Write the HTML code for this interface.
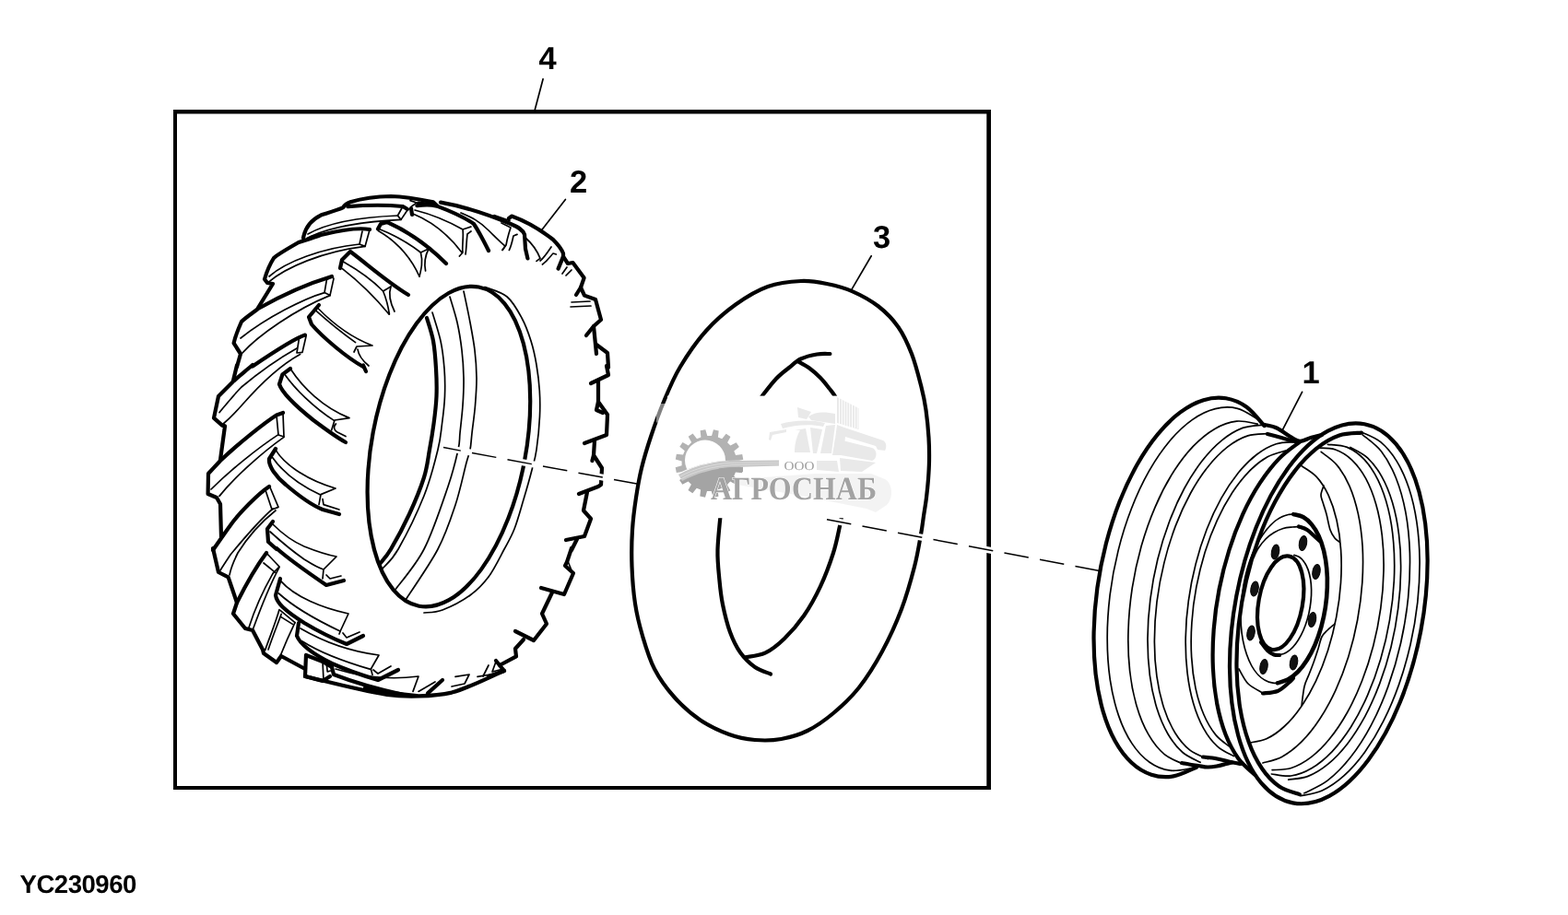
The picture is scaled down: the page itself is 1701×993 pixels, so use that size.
<!DOCTYPE html>
<html lang="ru">
<head>
<meta charset="utf-8">
<title>YC230960</title>
<style>
html,body{margin:0;padding:0;background:#fff;}
body{width:1701px;height:993px;overflow:hidden;position:relative;}
svg{position:absolute;left:0;top:0;display:block;will-change:transform;}
text{text-rendering:geometricPrecision;-webkit-font-smoothing:antialiased;}
.k{fill:none;stroke:#000;stroke-linecap:round;stroke-linejoin:round;}
.t3{stroke-width:4.2;}
.t2{stroke-width:2.4;}
.t4{stroke-width:4.6;}
.t1{stroke-width:1.7;}
.t0{stroke-width:1.1;}
.k path,.k line,.k ellipse,.k polyline{vector-effect:non-scaling-stroke;}
.lbl{font-family:"Liberation Sans",sans-serif;font-weight:bold;fill:#000;}
</style>
</head>
<body>
<svg width="1701" height="993" viewBox="0 0 1701 993">
<rect x="0" y="0" width="1701" height="993" fill="#fff"/>
<!--FRAME-->
<path d="M188,119 H1075 V857 H188 Z M192,123.4 V853 H1070.3 V123.4 Z" fill="#000" fill-rule="evenodd"/>
<!--LABELS-->
<g class="lbl" font-size="34.5" text-anchor="middle">
<text x="594" y="75.3">4</text>
<text x="627.5" y="209">2</text>
<text x="956.5" y="269">3</text>
<text x="1422" y="416.3">1</text>
</g>
<text class="lbl" x="21.5" y="969.3" font-size="27.6" letter-spacing="-0.5">YC230960</text>
<!--LEADERS-->
<g class="k t1">
<path d="M589.1 85.7L580.3 119"/>
<path d="M945.2 277.8L924.2 313.6"/>
<path d="M1412.6 425.3L1391.3 466.6"/>
</g>
<!--TIRE-->
<g id="tA" transform="translate(220,200) scale(0.2)">
<g class="k t3">
<path d="M545,292 C555,235 585,195 640,168 C670,158 730,140 760,127 C770,110 780,102 800,96 C860,78 940,66 1020,65 C1100,66 1190,84 1250,97 L1270,115"/>
<path d="M787,121 C880,113 1000,112 1085,120 L1110,135"/>
<path d="M905,245 C850,235 760,245 640,275 C600,290 550,305 520,315 C450,355 400,385 385,400 C360,440 345,480 335,515 L350,535 L380,540 L300,670"/>
<path d="M700,500 C600,530 450,590 300,675 C260,705 230,725 210,745 C190,790 175,830 168,862 L205,920 L185,990"/>
<path d="M555,818 C500,835 400,900 270,988"/>
<path d="M950,242 L965,215 L1000,205 C1100,250 1200,310 1320,430"/>
<path d="M745,455 L755,410 L800,365 C900,440 1000,530 1115,600"/>
<path d="M630,655 L575,720 L590,760 C650,830 780,940 870,990"/>
<path d="M1130,130 L1135,165"/>
<path d="M1162,116 C1200,110 1240,110 1270,118 C1350,148 1420,180 1470,215 C1500,260 1530,320 1550,360"/>
<path d="M1170,103 L1262,112"/>
</g>
<g class="k t1">
<path d="M1125,88 L1160,100 L1130,122"/>
<path d="M1085,120 L1057,170 L1075,192 L1110,140"/>
<path d="M570,270 C650,225 800,180 1057,170"/>
<path d="M565,292 C650,250 800,205 1075,192"/>
<path d="M865,255 L850,325 L880,337 L905,248"/>
<path d="M360,500 C450,420 650,345 850,325"/>
<path d="M355,532 C450,450 650,365 880,337"/>
<path d="M700,500 L672,518 L660,588 L690,603 L710,512 Z"/>
<path d="M205,835 C350,720 550,620 660,588"/>
<path d="M215,915 C300,820 500,680 690,603"/>
<path d="M555,818 L522,838 L510,915 L540,912 L560,825"/>
<path d="M962,245 C1050,280 1130,330 1182,370 L1225,350"/>
<path d="M952,252 C1050,310 1130,400 1175,500"/>
<path d="M1182,370 C1195,420 1185,460 1175,500"/>
<path d="M1225,350 C1205,390 1200,430 1208,470"/>
<path d="M762,420 C850,470 930,530 978,580 L1020,555"/>
<path d="M757,458 C850,530 940,620 1010,705"/>
<path d="M978,580 C995,620 1005,660 1012,705"/>
<path d="M1020,555 C1005,600 1020,650 1040,690"/>
<path d="M622,670 C700,750 800,830 920,875 L835,880 L820,910"/>
<path d="M615,687 C680,745 760,810 828,858"/>
<path d="M840,895 C845,930 870,960 900,985"/>
<path d="M1150,140 C1250,165 1330,200 1410,245 L1455,230"/>
<path d="M1140,160 C1250,205 1330,270 1405,370"/>
<path d="M1410,245 C1416,280 1405,340 1410,370 L1392,390"/>
<path d="M1455,255 L1435,270 C1430,310 1430,350 1425,380"/>
</g>
</g>
<g id="tB" transform="translate(220,398) scale(0.2)">
<g class="k t3">
<path d="M185,-8 L165,75"/>
<path d="M270,-10 C230,25 190,55 160,85 L85,160 L60,278 L105,318 L120,322 L95,505"/>
<path d="M435,250 L400,262 C340,300 200,410 95,510 L30,580 L28,690 L75,710 L95,745 L100,925"/>
<path d="M360,650 C300,690 200,790 150,860 C110,915 80,960 55,995"/>
<path d="M870,-8 L885,25"/>
<path d="M475,10 L432,42 L415,95 C430,140 500,210 600,290 C660,335 720,380 775,410"/>
<path d="M395,445 L360,500 C355,540 400,600 450,640 C520,700 600,755 650,775 L740,800"/>
<path d="M380,840 L350,880 L355,950 L400,990"/>
</g>
<g class="k t1">
<path d="M510,-100 C430,-55 330,10 210,110 C170,150 130,200 90,248"/>
<path d="M528,-68 C450,-25 350,50 215,205 C180,245 140,285 105,315"/>
<path d="M400,265 L410,370 L440,380 L435,255"/>
<path d="M410,368 C300,440 150,560 45,665"/>
<path d="M440,382 C330,460 180,590 90,702"/>
<path d="M340,670 L375,775 L410,762 L365,655"/>
<path d="M380,770 C300,840 220,935 150,1020 C130,1050 110,1080 95,1105"/>
<path d="M395,780 C320,840 240,930 190,1010 C170,1050 150,1100 145,1130"/>
<path d="M478,15 C540,110 650,220 795,278 L715,290 L698,345"/>
<path d="M445,42 C500,120 600,220 712,292"/>
<path d="M722,310 C705,325 712,345 730,355 L775,378"/>
<path d="M395,452 C450,540 580,620 720,660 L640,693 L630,748"/>
<path d="M378,492 C440,580 540,650 638,695"/>
<path d="M650,718 L655,748 L740,775"/>
<path d="M380,855 C420,895 480,945 550,975 C600,995 670,1020 725,1030 L655,1100 L650,1150"/>
<path d="M365,895 C420,945 500,1010 550,1045 C590,1070 620,1090 655,1100"/>
</g>
</g>
<g id="tC" transform="translate(220,596) scale(0.2)">
<g class="k t3">
<path d="M55,-5 L85,125 L138,152 L185,290"/>
<path d="M345,20 C300,80 230,200 185,290 L165,350 L230,430 L270,440 L325,545 L330,565 L400,615 L425,580 L555,650"/>
<path d="M700,640 L650,610 L560,575 L555,690 L650,715 L690,690"/>
<path d="M555,690 C700,725 850,765 1000,790 C1100,803 1250,800 1350,778 C1450,750 1550,695 1635,660"/>
<path d="M700,640 L710,680 C800,715 950,760 1100,793"/>
<path d="M880,752 C950,770 1050,786 1160,795"/>
<path d="M400,-5 C450,40 560,120 670,195 L765,170"/>
<path d="M420,160 L395,250 C400,290 440,330 550,400 C650,460 730,495 780,515 L870,470"/>
<path d="M520,400 L510,470 C530,520 600,570 700,620 C800,665 900,695 950,710 L1060,655"/>
<path d="M1220,782 L1300,710"/>
</g>
<g class="k t1">
<path d="M345,20 L415,95 L380,132"/>
<path d="M380,132 C330,220 280,330 250,425"/>
<path d="M415,98 C360,200 310,330 270,440"/>
<path d="M420,332 L500,398"/>
<path d="M415,328 C395,400 365,470 338,548"/>
<path d="M426,352 C405,410 380,470 355,545"/>
<path d="M425,368 L487,407"/>
<path d="M330,75 L392,126"/>
<path d="M500,398 C470,460 440,530 420,580"/>
<path d="M650,610 L655,712"/>
<path d="M672,628 L676,665 L692,660"/>
<path d="M670,140 L690,160 L750,145"/>
<path d="M422,172 C500,260 650,320 790,350 L748,440 L740,460"/>
<path d="M412,240 C500,320 650,400 745,445"/>
<path d="M760,455 L780,480 L850,450"/>
<path d="M530,430 C650,500 800,555 955,575 L912,650 L920,682"/>
<path d="M540,500 C650,570 800,620 910,652"/>
<path d="M925,655 L950,675 L1020,635"/>
<path d="M720,650 C850,690 1000,712 1170,690 L1140,772"/>
<path d="M1170,772 L1260,720"/>
<path d="M1350,745 L1420,730 L1445,680 L1370,692"/>
<path d="M1490,692 L1560,680"/>
</g>
</g>
<g id="tD" transform="translate(500,200) scale(0.2)">
<g class="k t3">
<path d="M-110,98 C0,117 150,165 270,215 C310,232 335,245 345,272 L350,350 L362,402"/>
<path d="M260,185 L275,173 C350,200 435,250 500,300 C525,325 545,350 555,375 L555,392 L528,458"/>
<path d="M555,392 L580,430 L607,425 L668,508 L650,560 L625,600"/>
<path d="M650,560 L670,603 L730,625 L760,735 L720,770 L680,820"/>
<path d="M720,770 L735,920"/>
<path d="M735,870 L795,915 L800,995"/>
</g>
<g class="k t1">
<path d="M0,155 C60,180 100,200 150,250 C190,290 220,320 240,335 L225,357"/>
<path d="M180,168 L265,198"/>
<path d="M220,210 L270,235 C260,265 250,300 245,330 L225,357"/>
<path d="M305,272 L285,280 C280,300 275,330 262,357"/>
<path d="M350,290 C390,325 415,365 430,402 L410,417"/>
<path d="M490,340 C470,370 450,400 430,415"/>
<path d="M517,380 L500,375 C485,390 470,415 442,435"/>
<path d="M550,485 L575,450"/>
<path d="M570,495 L600,465"/>
<path d="M600,640 L700,635"/>
<path d="M595,665 L705,660"/>
<path d="M567,82 L437,250"/>
</g>
</g>
<g id="tE" transform="translate(500,398) scale(0.2)">
<g class="k t3">
<path d="M790,-5 L800,45 L705,90"/>
<path d="M745,75 L745,190 L795,260 L790,370 L670,415"/>
<path d="M745,190 L735,235 L770,250"/>
<path d="M725,400 L720,480 L765,550 L760,640 L745,650 L640,690"/>
<path d="M720,480 L712,510"/>
<path d="M685,680 L665,780 L705,825 L670,920 L570,940"/>
<path d="M630,935 L600,995"/>
</g>
</g>
<g id="tF" transform="translate(500,596) scale(0.2)">
<g class="k t3">
<path d="M600,-5 L575,70 L565,90 L610,130 L560,245 L435,210"/>
<path d="M495,235 L440,350 L465,405 L395,495 L295,445"/>
<path d="M340,490 L295,540 L300,582 L210,630 L190,605"/>
<path d="M210,630 L235,660 L150,690"/>
</g>
<g class="k t1">
<path d="M578,60 L598,110"/>
<path d="M190,610 L170,665 L230,650"/>
<path d="M150,630 L120,690"/>
</g>
</g>
<!--HOLE-->
<g id="hole">
<ellipse class="k t3" cx="486.9" cy="484.6" rx="176.1" ry="83.6" transform="rotate(-79.40 486.9 484.6)"/>
<path class="k t1" d="M526.0,311.5 C530.0,313.2 543.3,316.4 550.0,322.0 C556.7,327.6 561.7,337.0 566.0,345.0 C570.3,353.0 573.3,361.5 576.0,370.0 C578.7,378.5 580.5,387.0 582.0,396.0 C583.5,405.0 584.7,414.7 585.3,424.0 C585.9,433.3 586.0,441.3 585.5,452.0 C585.0,462.7 583.4,478.3 582.0,488.0 C580.6,497.7 579.3,501.0 577.0,510.0 C574.7,519.0 571.2,531.3 568.0,542.0 C564.8,552.7 561.5,565.0 558.0,574.0 C554.5,583.0 551.7,587.3 547.0,596.0 C542.3,604.7 536.2,617.7 530.0,626.0 C523.8,634.3 518.3,640.0 510.0,646.0 C501.7,652.0 488.3,658.8 480.0,662.0 C471.7,665.2 463.3,664.5 460.0,665.0"/>
<path class="k t3" d="M463.0,345.0 C464.2,349.2 468.3,360.8 470.0,370.0 C471.7,379.2 472.4,390.0 473.0,400.0 C473.6,410.0 473.9,420.0 473.5,430.0 C473.1,440.0 471.8,450.3 470.5,460.0 C469.2,469.7 467.8,478.3 466.0,488.0 C464.2,497.7 463.7,506.3 460.0,518.0 C456.3,529.7 450.0,545.0 444.0,558.0 C438.0,571.0 429.3,587.0 424.0,596.0 C418.7,605.0 414.0,609.3 412.0,612.0"/>
<path class="k t1" d="M469.0,339.0 C470.5,344.2 475.8,359.8 478.0,370.0 C480.2,380.2 481.2,390.0 482.0,400.0 C482.8,410.0 482.9,420.0 482.5,430.0 C482.1,440.0 480.8,450.3 479.5,460.0 C478.2,469.7 478.2,475.0 475.0,488.0 C471.8,501.0 467.2,520.0 460.0,538.0 C452.8,556.0 439.5,582.8 432.0,596.0 C424.5,609.2 417.8,613.5 415.0,617.0"/>
<path class="k t1" d="M488.0,322.0 C489.3,326.7 493.8,340.3 496.0,350.0 C498.2,359.7 499.8,370.0 501.0,380.0 C502.2,390.0 502.8,400.0 503.0,410.0 C503.2,420.0 502.7,430.0 502.0,440.0 C501.3,450.0 499.8,462.0 499.0,470.0 C498.2,478.0 499.2,478.3 497.0,488.0 C494.8,497.7 492.2,510.0 486.0,528.0 C479.8,546.0 469.7,577.2 460.0,596.0 C450.3,614.8 433.3,633.5 428.0,641.0"/>
<path class="k t1" d="M503.0,316.0 C504.2,321.7 508.0,339.3 510.0,350.0 C512.0,360.7 513.8,370.0 515.0,380.0 C516.2,390.0 516.9,400.0 517.0,410.0 C517.1,420.0 516.3,430.0 515.5,440.0 C514.7,450.0 512.9,462.0 512.0,470.0 C511.1,478.0 511.0,482.7 510.0,488.0 C509.0,493.3 508.7,492.0 506.0,502.0 C503.3,512.0 499.2,532.3 494.0,548.0 C488.8,563.7 484.0,578.8 475.0,596.0 C466.0,613.2 445.8,641.8 440.0,651.0"/>
</g>
<!--/HOLE-->
<!--TUBE-->
<g id="tube">
<path class="k t3" d="M869.0,305.0 C879.7,304.5 887.7,306.1 897.0,308.0 C906.3,309.9 915.7,312.2 925.0,316.3 C934.3,320.4 944.8,326.1 953.0,332.5 C961.2,338.9 968.5,346.4 974.5,355.0 C980.5,363.6 984.8,373.2 989.0,384.0 C993.2,394.8 996.9,409.8 999.5,420.0 C1002.1,430.2 1003.2,435.8 1004.5,445.0 C1005.8,454.2 1006.9,465.8 1007.5,475.0 C1008.1,484.2 1008.1,492.5 1008.0,500.0 C1007.9,507.5 1007.5,513.3 1007.0,520.0 C1006.5,526.7 1005.8,533.3 1005.0,540.0 C1004.2,546.7 1003.0,553.3 1002.0,560.0 C1001.0,566.7 1000.7,570.8 999.0,580.0 C997.3,589.2 995.5,601.5 992.0,615.0 C988.5,628.5 983.8,645.7 978.0,661.0 C972.2,676.3 964.7,692.8 957.0,707.0 C949.3,721.2 940.8,734.8 932.0,746.0 C923.2,757.2 913.3,766.2 904.0,774.0 C894.7,781.8 885.4,788.3 876.0,793.0 C866.6,797.7 857.0,800.3 847.5,802.0 C838.0,803.7 828.4,803.8 819.0,803.0 C809.6,802.2 801.0,800.7 791.0,797.0 C781.0,793.3 769.0,787.8 759.0,781.0 C749.0,774.2 739.2,765.2 731.0,756.0 C722.8,746.8 715.7,737.0 710.0,726.0 C704.3,715.0 700.5,701.8 697.0,690.0 C693.5,678.2 690.9,667.5 689.0,655.0 C687.1,642.5 686.0,628.3 685.5,615.0 C685.0,601.7 685.2,587.5 686.0,575.0 C686.8,562.5 688.3,551.2 690.0,540.0 C691.7,528.8 693.3,519.0 696.0,508.0 C698.7,497.0 702.0,486.0 706.0,474.0 C710.0,462.0 714.7,448.7 720.0,436.0 C725.3,423.3 730.3,410.8 738.0,398.0 C745.7,385.2 756.0,370.2 766.0,359.0 C776.0,347.8 786.8,338.5 798.0,330.5 C809.2,322.5 821.2,315.2 833.0,311.0 C844.8,306.8 858.3,305.5 869.0,305.0Z"/>
<path class="k t3" d="M820.0,440.0 C821.2,438.2 823.3,434.3 827.0,429.5 C830.7,424.7 837.2,416.1 842.0,411.0 C846.8,405.9 851.5,402.6 856.0,399.0 C860.5,395.4 863.7,391.9 868.7,389.5 C873.8,387.1 881.0,385.4 886.3,384.5 C891.6,383.6 898.0,384.1 900.4,384.0"/>
<path class="k t3" d="M865.2,392.0 C867.3,393.2 873.9,396.5 878.0,399.5 C882.1,402.5 886.3,406.2 890.0,410.0 C893.7,413.8 897.4,418.7 900.0,422.0 C902.6,425.3 903.8,426.6 905.6,429.6 C907.4,432.6 910.1,438.3 911.0,440.0"/>
<path class="k t3" d="M782.0,555.0 C781.4,562.0 778.8,584.5 778.5,597.0 C778.2,609.5 779.6,620.2 780.5,630.0 C781.4,639.8 782.1,646.7 784.0,656.0 C785.9,665.3 788.8,677.3 792.0,686.0 C795.2,694.7 798.5,701.7 803.0,708.0 C807.5,714.3 813.5,720.1 819.0,724.0 C824.5,727.9 833.2,730.2 836.0,731.5"/>
<path class="k t3" d="M913.0,560.0 C912.7,561.8 912.5,564.3 911.0,571.0 C909.5,577.7 907.5,589.1 904.0,600.0 C900.5,610.9 895.3,625.1 890.0,636.4 C884.7,647.7 878.7,658.6 872.2,668.0 C865.7,677.4 858.0,686.2 851.0,693.0 C844.0,699.8 837.0,705.3 830.0,708.7 C823.0,712.1 812.2,712.5 808.7,713.3"/>
</g>
<!--/TUBE-->
<!--RIM-->
<g id="rim">
<path class="k t3" d="M1371.5,462.1 C1368.3,458.7 1359.3,446.8 1352.4,441.8 C1345.5,436.8 1337.8,433.6 1330.0,432.3 C1322.2,431.1 1313.8,431.7 1305.6,434.2 C1297.3,436.7 1288.7,441.3 1280.5,447.4 C1272.2,453.5 1263.9,461.7 1256.1,471.1 C1248.3,480.5 1240.6,491.8 1233.7,504.0 C1226.8,516.2 1220.3,530.0 1214.6,544.3 C1209.0,558.6 1204.0,574.2 1199.9,589.8 C1195.9,605.4 1192.6,621.9 1190.4,637.9 C1188.2,653.9 1186.9,670.4 1186.6,686.0 C1186.3,701.6 1187.0,717.1 1188.6,731.4 C1190.3,745.6 1193.0,759.4 1196.5,771.6 C1200.0,783.7 1204.5,794.9 1209.7,804.3 C1214.9,813.7 1221.0,821.7 1227.6,827.8 C1234.1,833.9 1241.5,838.3 1249.0,840.7 C1256.6,843.2 1264.8,843.7 1273.0,842.4 C1281.1,841.1 1293.8,834.3 1298.0,832.7"/>
<path class="k t1" d="M1364.4,454.8 C1360.7,452.9 1350.2,445.2 1342.5,443.3 C1334.9,441.4 1326.6,441.5 1318.4,443.6 C1310.1,445.6 1301.5,449.8 1293.3,455.6 C1285.0,461.5 1276.6,469.4 1268.8,478.7 C1261.0,488.0 1253.3,499.2 1246.4,511.4 C1239.5,523.6 1233.0,537.4 1227.5,551.8 C1221.9,566.1 1217.0,581.8 1213.1,597.4 C1209.2,613.1 1206.1,629.6 1204.1,645.6 C1202.2,661.6 1201.1,678.0 1201.2,693.4 C1201.2,708.8 1202.3,724.1 1204.3,737.9 C1206.4,751.8 1209.5,765.1 1213.5,776.6 C1217.4,788.1 1222.4,798.5 1228.0,806.9 C1233.6,815.4 1240.1,822.3 1247.1,827.2 C1254.0,832.1 1261.7,835.2 1269.5,836.2 C1277.4,837.3 1289.9,833.9 1294.0,833.4"/>
<path class="k t1" d="M1364.2,460.2 C1360.4,459.7 1349.4,456.2 1341.6,457.1 C1333.9,458.0 1325.7,460.8 1317.8,465.4 C1309.9,470.0 1301.8,476.6 1294.1,484.6 C1286.5,492.6 1279.0,502.5 1272.1,513.5 C1265.3,524.4 1258.7,537.1 1253.1,550.3 C1247.4,563.5 1242.3,578.1 1238.1,592.8 C1234.0,607.5 1230.6,623.2 1228.2,638.4 C1225.9,653.7 1224.4,669.5 1224.0,684.4 C1223.5,699.3 1224.1,714.2 1225.6,727.8 C1227.1,741.5 1229.7,754.6 1233.1,766.2 C1236.4,777.7 1240.8,788.3 1245.9,797.1 C1250.9,805.8 1256.9,813.2 1263.2,818.6 C1269.6,824.0 1280.6,827.6 1284.1,829.4"/>
<path class="k t1" d="M1370.0,461.1 C1366.3,461.7 1355.5,461.7 1348.1,464.4 C1340.8,467.2 1333.1,471.7 1325.8,477.6 C1318.5,483.5 1311.2,491.1 1304.4,499.8 C1297.5,508.6 1290.8,518.9 1284.8,530.0 C1278.8,541.1 1273.2,553.6 1268.4,566.5 C1263.5,579.4 1259.2,593.3 1255.8,607.3 C1252.4,621.2 1249.7,635.8 1247.9,650.1 C1246.1,664.3 1245.1,678.9 1245.0,692.6 C1244.9,706.4 1245.7,720.0 1247.3,732.6 C1248.9,745.1 1251.5,757.1 1254.7,767.7 C1258.0,778.3 1262.1,788.1 1266.8,796.2 C1271.5,804.3 1277.0,811.3 1282.9,816.5 C1288.8,821.6 1298.9,825.5 1302.1,827.3"/>
<path class="k t1" d="M1375.0,470.7 C1371.5,471.1 1360.9,470.5 1353.7,472.9 C1346.5,475.2 1339.0,479.4 1331.8,484.9 C1324.7,490.5 1317.4,497.8 1310.7,506.2 C1303.9,514.6 1297.3,524.7 1291.4,535.5 C1285.5,546.3 1279.9,558.5 1275.1,571.1 C1270.4,583.7 1266.1,597.4 1262.8,611.1 C1259.4,624.7 1256.8,639.1 1255.0,653.1 C1253.3,667.0 1252.4,681.3 1252.4,694.8 C1252.3,708.2 1253.2,721.6 1254.9,733.8 C1256.6,746.0 1259.2,757.7 1262.5,767.9 C1265.8,778.2 1270.0,787.5 1274.7,795.2 C1279.4,802.9 1285.0,809.4 1290.9,814.1 C1296.8,818.8 1306.9,822.0 1310.1,823.6"/>
<path class="k t1" d="M1404.9,479.6 C1401.5,480.0 1391.4,479.4 1384.5,481.7 C1377.7,483.9 1370.5,487.8 1363.7,493.0 C1356.8,498.2 1349.9,505.1 1343.4,513.0 C1337.0,521.0 1330.6,530.4 1324.9,540.7 C1319.2,550.9 1313.8,562.4 1309.2,574.3 C1304.5,586.3 1300.4,599.2 1297.1,612.2 C1293.7,625.2 1291.1,638.9 1289.3,652.2 C1287.4,665.6 1286.4,679.3 1286.2,692.2 C1286.0,705.1 1286.6,718.0 1288.0,729.9 C1289.4,741.7 1291.6,753.1 1294.6,763.2 C1297.5,773.3 1301.3,782.6 1305.6,790.3 C1309.9,798.1 1315.0,804.8 1320.5,809.8 C1325.9,814.9 1335.3,818.8 1338.3,820.6"/>
<path class="k t1" d="M1395.1,489.0 C1391.7,490.1 1381.8,492.1 1375.1,495.8 C1368.5,499.5 1361.7,504.8 1355.3,511.3 C1348.9,517.8 1342.6,525.8 1336.7,534.7 C1330.9,543.6 1325.3,553.8 1320.4,564.6 C1315.4,575.4 1310.9,587.3 1307.1,599.4 C1303.4,611.5 1300.2,624.4 1297.8,637.1 C1295.4,649.8 1293.7,663.0 1292.9,675.7 C1292.0,688.3 1291.9,701.1 1292.6,712.9 C1293.3,724.8 1294.8,736.4 1297.0,746.9 C1299.2,757.3 1302.3,767.1 1305.9,775.5 C1309.5,783.9 1313.9,791.4 1318.7,797.4 C1323.5,803.3 1332.1,808.8 1334.8,811.1"/>
<path class="k t3" d="M1372.0,461.0 C1374.2,461.6 1380.3,462.3 1385.0,464.5 C1389.7,466.7 1395.8,471.6 1400.0,474.0 C1404.2,476.4 1406.3,478.6 1410.0,478.8 C1413.7,479.0 1418.0,476.1 1422.0,475.0 C1426.0,473.9 1432.0,472.5 1434.0,472.0"/>
<path class="k t3" d="M1375.0,471.0 C1377.5,471.7 1385.5,473.8 1390.0,475.0 C1394.5,476.2 1398.7,477.8 1402.0,478.5 C1405.3,479.2 1408.7,478.9 1410.0,479.0"/>
<path class="k t3" d="M1282.0,828.0 C1283.3,828.2 1287.0,829.0 1290.0,829.5 C1293.0,830.0 1296.7,830.5 1300.0,831.0 C1303.3,831.5 1306.7,832.4 1310.0,832.5 C1313.3,832.6 1316.7,832.1 1320.0,831.5 C1323.3,830.9 1327.3,829.7 1330.0,829.0 C1332.7,828.3 1335.0,827.8 1336.0,827.5"/>
<path class="k t3" d="M1305.0,821.5 C1306.7,821.7 1311.7,822.0 1315.0,822.5 C1318.3,823.0 1321.7,823.8 1325.0,824.5 C1328.3,825.2 1331.5,826.2 1335.0,827.0 C1338.5,827.8 1344.2,828.7 1346.0,829.0"/>
<path class="k t3" d="M1410.0,479.6 C1406.3,482.6 1394.9,490.2 1387.7,497.6 C1380.5,505.0 1373.4,514.1 1366.8,524.2 C1360.2,534.2 1353.9,545.8 1348.3,557.9 C1342.8,570.0 1337.6,583.4 1333.4,597.0 C1329.1,610.6 1325.4,625.1 1322.6,639.5 C1319.8,653.8 1317.8,668.7 1316.7,683.0 C1315.6,697.3 1315.3,711.7 1315.9,725.2 C1316.5,738.7 1318.0,752.0 1320.3,764.0 C1322.6,776.0 1325.8,787.4 1329.6,797.3 C1333.5,807.2 1338.2,816.1 1343.4,823.3 C1348.6,830.5 1357.9,837.7 1360.9,840.6"/>
<ellipse class="k t3" cx="1441.3" cy="665.8" rx="209.2" ry="101.8" transform="rotate(-79.30 1441.3 665.8)"/>
<path class="k t3" d="M1476.9,469.6 C1472.9,470.1 1461.0,469.7 1452.9,472.5 C1444.8,475.3 1436.4,480.1 1428.3,486.6 C1420.3,493.0 1412.1,501.4 1404.6,511.1 C1397.1,520.7 1389.8,532.2 1383.2,544.6 C1376.6,556.9 1370.5,570.8 1365.3,585.1 C1360.0,599.4 1355.4,614.9 1351.9,630.3 C1348.3,645.7 1345.5,662.0 1343.8,677.6 C1342.1,693.3 1341.3,709.3 1341.5,724.2 C1341.7,739.2 1343.0,754.0 1345.1,767.5 C1347.3,780.9 1350.5,793.7 1354.5,804.8 C1358.4,815.9 1363.4,825.9 1369.0,834.0 C1374.5,842.2 1381.0,848.8 1387.8,853.5 C1394.6,858.2 1406.2,860.7 1409.8,862.1"/>
<path class="k t1" d="M1477.0,469.0 C1480.5,470.8 1491.3,474.5 1497.7,479.7 C1504.0,485.0 1510.0,492.1 1515.1,500.4 C1520.3,508.8 1524.8,518.9 1528.5,529.9 C1532.1,540.9 1535.0,553.5 1536.9,566.6 C1538.9,579.7 1539.9,594.1 1540.1,608.6 C1540.2,623.1 1539.4,638.5 1537.8,653.6 C1536.1,668.7 1533.5,684.3 1530.1,699.3 C1526.7,714.2 1522.4,729.2 1517.5,743.1 C1512.6,757.1 1506.8,770.7 1500.6,782.9 C1494.5,795.1 1487.5,806.5 1480.4,816.4 C1473.3,826.2 1465.6,834.9 1457.9,841.8 C1450.2,848.7 1442.1,854.2 1434.2,857.9 C1426.4,861.5 1414.7,862.7 1410.8,863.7"/>
<path class="k t1" d="M1478.1,471.8 C1481.4,474.8 1492.3,482.0 1498.4,489.8 C1504.4,497.6 1509.9,507.5 1514.3,518.5 C1518.7,529.6 1522.4,542.5 1524.9,556.2 C1527.4,569.8 1528.9,585.0 1529.4,600.4 C1529.8,615.8 1529.2,632.4 1527.6,648.6 C1526.0,664.8 1523.2,681.7 1519.6,697.8 C1516.0,713.8 1511.3,730.0 1505.9,744.9 C1500.6,759.8 1494.2,774.3 1487.4,787.1 C1480.6,799.9 1472.9,811.9 1465.1,821.8 C1457.3,831.8 1448.8,840.4 1440.4,846.9 C1432.1,853.4 1419.1,858.5 1414.9,860.8"/>
<path class="k t1" d="M1464.9,485.5 C1468.0,487.4 1477.8,491.6 1483.5,496.8 C1489.1,502.1 1494.4,509.0 1498.9,517.1 C1503.5,525.2 1507.4,534.8 1510.5,545.3 C1513.6,555.7 1516.0,567.5 1517.5,579.8 C1519.1,592.1 1519.8,605.4 1519.6,618.9 C1519.5,632.3 1518.5,646.5 1516.7,660.4 C1515.0,674.3 1512.3,688.6 1509.0,702.2 C1505.6,715.8 1501.4,729.4 1496.7,741.9 C1492.0,754.5 1486.5,766.7 1480.7,777.6 C1474.8,788.4 1468.3,798.6 1461.7,807.2 C1455.0,815.8 1447.9,823.3 1440.8,829.2 C1433.7,835.0 1426.2,839.6 1419.1,842.4 C1411.9,845.2 1401.2,845.5 1397.7,846.1"/>
<path class="k t1" d="M1440.4,482.3 C1443.9,482.8 1454.8,482.7 1461.4,485.4 C1468.0,488.2 1474.4,492.7 1480.0,498.7 C1485.6,504.7 1490.8,512.5 1495.1,521.4 C1499.4,530.3 1503.1,540.8 1505.9,552.1 C1508.7,563.3 1510.7,576.0 1511.7,589.0 C1512.8,602.1 1513.0,616.2 1512.3,630.2 C1511.6,644.2 1509.9,659.0 1507.5,673.2 C1505.1,687.4 1501.7,702.0 1497.7,715.6 C1493.7,729.2 1488.8,742.7 1483.4,754.9 C1478.0,767.2 1471.9,778.8 1465.5,789.0 C1459.0,799.1 1452.0,808.3 1444.9,815.8 C1437.7,823.2 1430.2,829.4 1422.8,833.8 C1415.4,838.2 1407.8,841.0 1400.5,842.0 C1393.3,843.0 1382.9,840.3 1379.3,840.0"/>
<path class="k t1" d="M1428.5,486.1 C1431.9,486.4 1442.3,485.8 1448.7,488.0 C1455.0,490.2 1461.2,494.0 1466.7,499.3 C1472.2,504.5 1477.3,511.4 1481.7,519.4 C1486.0,527.4 1489.8,536.9 1492.7,547.2 C1495.7,557.5 1497.9,569.1 1499.3,581.2 C1500.7,593.3 1501.3,606.4 1501.0,619.6 C1500.8,632.7 1499.7,646.6 1497.8,660.2 C1495.9,673.7 1493.2,687.6 1489.8,700.8 C1486.4,714.0 1482.2,727.2 1477.4,739.3 C1472.7,751.4 1467.2,763.1 1461.4,773.5 C1455.6,783.8 1449.2,793.5 1442.6,801.5 C1436.1,809.6 1429.0,816.6 1422.1,821.9 C1415.1,827.2 1407.8,831.2 1400.8,833.5 C1393.9,835.8 1383.6,835.3 1380.1,835.7"/>
<path class="k t1" d="M1433.2,490.4 C1436.0,492.8 1445.1,498.4 1450.2,504.6 C1455.3,510.7 1460.0,518.5 1463.9,527.3 C1467.7,536.1 1470.9,546.4 1473.3,557.4 C1475.7,568.3 1477.3,580.6 1478.1,593.1 C1478.8,605.6 1478.7,619.0 1477.8,632.3 C1476.9,645.7 1475.1,659.6 1472.6,673.0 C1470.1,686.4 1466.7,700.0 1462.8,712.8 C1458.8,725.5 1454.0,738.1 1448.8,749.4 C1443.5,760.7 1437.6,771.5 1431.4,780.8 C1425.3,790.1 1418.5,798.5 1411.8,805.2 C1405.0,811.9 1397.8,817.4 1390.9,821.2 C1383.9,825.0 1373.4,826.9 1369.9,828.0"/>
<path class="k t1" d="M1412.1,505.7 C1414.7,507.6 1423.3,512.1 1428.1,517.4 C1432.9,522.6 1437.3,529.4 1441.0,537.2 C1444.6,545.1 1447.7,554.3 1450.0,564.2 C1452.3,574.1 1453.9,585.2 1454.6,596.6 C1455.4,608.0 1455.3,620.3 1454.5,632.5 C1453.7,644.6 1452.0,657.4 1449.7,669.7 C1447.4,681.9 1444.2,694.4 1440.5,705.9 C1436.8,717.5 1432.3,728.9 1427.5,739.1 C1422.6,749.3 1417.1,759.0 1411.3,767.2 C1405.6,775.5 1399.4,782.8 1393.1,788.5 C1386.9,794.3 1380.3,798.8 1373.9,801.8 C1367.5,804.7 1358.0,805.4 1354.8,806.2"/>
<path class="k t1" d="M1436.0,527.0 C1435.5,528.7 1433.2,534.0 1433.0,537.0 C1432.8,540.0 1434.0,541.5 1435.0,545.0 C1436.0,548.5 1437.7,553.0 1439.0,558.0 C1440.3,563.0 1441.5,570.7 1443.0,575.0 C1444.5,579.3 1446.3,581.8 1448.0,584.0 C1449.7,586.2 1452.2,587.3 1453.0,588.0"/>
<path class="k t1" d="M1448.0,677.0 C1446.7,678.2 1442.3,681.7 1440.0,684.0 C1437.7,686.3 1435.7,687.7 1434.0,691.0 C1432.3,694.3 1431.5,699.3 1430.0,704.0 C1428.5,708.7 1426.7,714.3 1425.0,719.0 C1423.3,723.7 1421.7,727.7 1420.0,732.0 C1418.3,736.3 1416.3,739.3 1415.0,745.0 C1413.7,750.7 1412.5,762.5 1412.0,766.0"/>
<ellipse class="k t1" cx="1393.0" cy="649.7" rx="92.2" ry="45.7" transform="rotate(-82.40 1393.0 649.7)"/>
<path class="k t4" d="M1403.2,558.1 C1404.9,558.6 1410.3,559.3 1413.6,561.1 C1416.9,563.0 1420.1,565.7 1422.9,569.1 C1425.7,572.5 1428.3,576.7 1430.5,581.5 C1432.7,586.3 1434.6,591.8 1436.1,597.7 C1437.5,603.6 1438.6,610.1 1439.2,616.8 C1439.9,623.5 1440.1,630.6 1439.8,637.7 C1439.6,644.8 1438.9,652.2 1437.8,659.3 C1436.7,666.4 1435.1,673.7 1433.3,680.4 C1431.4,687.1 1429.1,693.8 1426.5,699.8 C1423.9,705.7 1421.0,711.4 1417.9,716.3 C1414.8,721.2 1411.4,725.6 1407.9,729.2 C1404.4,732.7 1400.7,735.6 1397.0,737.6 C1393.4,739.6 1387.8,740.6 1386.0,741.2"/>
<path class="k t1" d="M1360.0,605.0 C1360.8,603.3 1362.8,598.3 1365.0,595.0 C1367.2,591.7 1370.2,587.8 1373.0,585.0 C1375.8,582.2 1378.8,579.9 1382.0,578.0 C1385.2,576.1 1388.7,574.5 1392.0,573.5 C1395.3,572.5 1399.2,572.3 1402.0,572.0 C1404.8,571.7 1407.8,571.6 1409.0,571.5"/>
<path class="k t3" d="M1409.0,571.5 C1410.5,572.1 1415.2,573.2 1418.0,575.0 C1420.8,576.8 1423.8,580.0 1426.0,582.0 C1428.2,584.0 1430.6,586.2 1431.5,587.0"/>
<path class="k t1" d="M1344.0,726.0 C1345.7,728.7 1349.7,737.7 1354.0,742.0 C1358.3,746.3 1367.3,750.3 1370.0,752.0"/>
<path class="k t3" d="M1370.0,752.5 C1372.7,752.1 1381.3,751.9 1386.0,750.0 C1390.7,748.1 1395.2,743.3 1398.0,741.0 C1400.8,738.7 1402.2,736.8 1403.0,736.0"/>
<ellipse class="k t3" cx="1389.2" cy="654.3" rx="51.5" ry="23.8" transform="rotate(-79.70 1389.2 654.3)"/>
<path class="k t1" d="M1403.9,602.4 C1404.9,602.8 1408.1,603.5 1409.9,604.8 C1411.8,606.1 1413.5,608.0 1415.0,610.2 C1416.6,612.4 1417.9,615.1 1419.0,618.1 C1420.1,621.2 1421.0,624.6 1421.6,628.3 C1422.2,631.9 1422.5,636.0 1422.6,640.0 C1422.7,644.1 1422.5,648.5 1422.0,652.7 C1421.6,657.0 1420.8,661.4 1419.9,665.6 C1418.9,669.8 1417.7,674.1 1416.3,678.0 C1414.9,681.9 1413.3,685.8 1411.5,689.2 C1409.7,692.6 1407.8,695.8 1405.7,698.5 C1403.7,701.2 1401.5,703.5 1399.3,705.4 C1397.1,707.2 1394.8,708.7 1392.6,709.5 C1390.4,710.4 1387.1,710.5 1386.1,710.7"/>
<path class="k t3" d="M1368.0,697.0 C1369.2,698.5 1372.7,703.8 1375.0,706.0 C1377.3,708.2 1379.8,709.7 1382.0,710.5 C1384.2,711.3 1387.0,710.9 1388.0,711.0"/>
<ellipse cx="1383.5" cy="599.0" rx="4.1" ry="8.2" fill="#111" stroke="#000" stroke-width="1" transform="rotate(10 1383.5 599.0)"/>
<ellipse cx="1413.5" cy="589.5" rx="4.1" ry="8.2" fill="#111" stroke="#000" stroke-width="1" transform="rotate(10 1413.5 589.5)"/>
<ellipse cx="1428.0" cy="620.5" rx="4.1" ry="8.2" fill="#111" stroke="#000" stroke-width="1" transform="rotate(10 1428.0 620.5)"/>
<ellipse cx="1423.5" cy="672.5" rx="4.1" ry="8.2" fill="#111" stroke="#000" stroke-width="1" transform="rotate(10 1423.5 672.5)"/>
<ellipse cx="1403.5" cy="719.0" rx="4.1" ry="8.2" fill="#111" stroke="#000" stroke-width="1" transform="rotate(10 1403.5 719.0)"/>
<ellipse cx="1371.0" cy="723.5" rx="4.1" ry="8.2" fill="#111" stroke="#000" stroke-width="1" transform="rotate(10 1371.0 723.5)"/>
<ellipse cx="1357.0" cy="687.0" rx="4.1" ry="8.2" fill="#111" stroke="#000" stroke-width="1" transform="rotate(10 1357.0 687.0)"/>
<ellipse cx="1361.0" cy="639.0" rx="4.1" ry="8.2" fill="#111" stroke="#000" stroke-width="1" transform="rotate(10 1361.0 639.0)"/>
</g>
<!--/RIM-->
<!--AXIS-->
<g id="axis">
<line x1="478.0" y1="485.04" x2="688.5" y2="524.62" stroke="#fff" stroke-width="7" stroke-linecap="butt"/>
<line x1="893.5" y1="563.18" x2="1190.0" y2="618.94" stroke="#fff" stroke-width="7" stroke-linecap="butt"/>
<line x1="481.0" y1="485.60" x2="692.5" y2="525.38" stroke="#000" stroke-width="1.5" stroke-dasharray="26.76 12.41" stroke-dashoffset="7.63"/>
<line x1="896.5" y1="563.74" x2="1193.5" y2="619.60" stroke="#000" stroke-width="1.5" stroke-dasharray="26.76 12.41" stroke-dashoffset="38.67"/>
</g>
<!--/AXIS-->
<!--WATERMARK-->
<g id="wm">
<rect x="724" y="429.6" width="265" height="132.6" fill="#fff"/>
<rect x="712" y="438" width="12.5" height="20.5" fill="#fff" opacity="0.5"/>
<g fill="#e9e9e9" stroke="none">
<path d="M908,431 L931.5,443 L931.5,466 L908,459Z"/>
<path d="M865,442 L880,447 L875,455 L866,453Z"/>
<path d="M877,452 C885,446 896,447 906,449 L906,460 L880,456Z"/>
<path d="M847,460 C860,456 880,455 895,459 L893,463 C880,460 862,461 849,465Z"/>
<path d="M862,467 L874,465 L879,491 L862,491 C862,480 865,472 868,467Z"/>
<path d="M879,464 L892,466 L886,492 L882,492Z"/>
<path d="M896,462 L906,461 L902,492 L890,492Z"/>
<path d="M908,461 L916,464 L958,478 C962,480 962,486 960,489 L952,488 L950,484 L917,474 L915,492 L904,492Z"/>
<path d="M906,476 L946,486 C952,488 952,498 946,500 L912,494 L903,494Z"/>
<path d="M886,500 L908,500 L910,512 L886,510Z"/>
<path d="M911,497 L950,502 L935,512 L912,511Z"/>
<path d="M885,514 L945,514 L960,520 C968,524 970,540 962,548 L950,556 L940,552 L880,540 L800,526 L800,520Z" opacity="0.55"/>
<path d="M835,469 L853,466 L853,469 L838,472 L836,478 L834,477Z"/>
</g>
<g stroke="#fff" stroke-width="1">
<line x1="910.5" y1="432.0" x2="910.5" y2="461.0"/>
<line x1="913.3" y1="433.4" x2="913.3" y2="461.6"/>
<line x1="916.1" y1="434.8" x2="916.1" y2="462.2"/>
<line x1="918.9" y1="436.2" x2="918.9" y2="462.8"/>
<line x1="921.7" y1="437.6" x2="921.7" y2="463.4"/>
<line x1="924.5" y1="439.0" x2="924.5" y2="464.0"/>
<line x1="927.3" y1="440.4" x2="927.3" y2="464.6"/>
<line x1="930.1" y1="441.8" x2="930.1" y2="465.2"/>
</g>
<clipPath id="gu"><path d="M720,440 L812,440 L812,499.5 L786,500 C770,501 750,506 736,514 L720,514Z"/></clipPath>
<g clip-path="url(#gu)"><path d="M798.1,493.9 L805.2,493.1 L806.3,498.8 L799.4,500.8 L799.4,505.5 L806.2,507.5 L805.1,513.2 L798.0,512.4 L796.2,516.7 L801.7,521.2 L798.5,526.0 L792.2,522.6 L788.9,525.9 L792.3,532.2 L787.4,535.4 L783.0,529.8 L778.6,531.6 L779.4,538.7 L773.7,539.8 L771.7,532.9 L767.0,532.9 L765.0,539.7 L759.3,538.6 L760.1,531.5 L755.8,529.7 L751.3,535.2 L746.5,532.0 L749.9,525.7 L746.6,522.4 L740.3,525.8 L737.1,520.9 L742.7,516.5 L740.9,512.1 L733.8,512.9 L732.7,507.2 L739.6,505.2 L739.6,500.5 L732.8,498.5 L733.9,492.8 L741.0,493.6 L742.8,489.3 L737.3,484.8 L740.5,480.0 L746.8,483.4 L750.1,480.1 L746.7,473.8 L751.6,470.6 L756.0,476.2 L760.4,474.4 L759.6,467.3 L765.3,466.2 L767.3,473.1 L772.0,473.1 L774.0,466.3 L779.7,467.4 L778.9,474.5 L783.2,476.3 L787.7,470.8 L792.5,474.0 L789.1,480.3 L792.4,483.6 L798.7,480.2 L801.9,485.1 L796.3,489.5Z" fill="#b2b2b2"/>
<circle cx="765" cy="499.5" r="22" fill="#fff"/></g>
<clipPath id="gl"><path d="M736,521 C752,512 775,507 806,506 L806,545 L730,545Z"/></clipPath>
<g clip-path="url(#gl)"><path d="M798.1,493.9 L805.2,493.1 L806.3,498.8 L799.4,500.8 L799.4,505.5 L806.2,507.5 L805.1,513.2 L798.0,512.4 L796.2,516.7 L801.7,521.2 L798.5,526.0 L792.2,522.6 L788.9,525.9 L792.3,532.2 L787.4,535.4 L783.0,529.8 L778.6,531.6 L779.4,538.7 L773.7,539.8 L771.7,532.9 L767.0,532.9 L765.0,539.7 L759.3,538.6 L760.1,531.5 L755.8,529.7 L751.3,535.2 L746.5,532.0 L749.9,525.7 L746.6,522.4 L740.3,525.8 L737.1,520.9 L742.7,516.5 L740.9,512.1 L733.8,512.9 L732.7,507.2 L739.6,505.2 L739.6,500.5 L732.8,498.5 L733.9,492.8 L741.0,493.6 L742.8,489.3 L737.3,484.8 L740.5,480.0 L746.8,483.4 L750.1,480.1 L746.7,473.8 L751.6,470.6 L756.0,476.2 L760.4,474.4 L759.6,467.3 L765.3,466.2 L767.3,473.1 L772.0,473.1 L774.0,466.3 L779.7,467.4 L778.9,474.5 L783.2,476.3 L787.7,470.8 L792.5,474.0 L789.1,480.3 L792.4,483.6 L798.7,480.2 L801.9,485.1 L796.3,489.5Z" fill="#a4a4a4"/></g>
<path d="M736,515 C752,506 772,501 792,500 L845,499.5 L845,505.5 L795,507 C775,508 755,514 740,522Z" fill="#c6c6c6"/>
<path d="M737,517.5 C753,508.5 773,503.5 793,502.3 L845,501.6" fill="none" stroke="#e2e2e2" stroke-width="0.7"/>
<path d="M738.5,520 C754,511 774,506 794,504.6 L845,503.6" fill="none" stroke="#e2e2e2" stroke-width="0.7"/>
<path d="M780,508.5 C788,507.5 798,506.8 806,506.7 L806,512 L776,512Z" fill="#a4a4a4"/>
<text x="850.5" y="510.2" font-family="'Liberation Serif',serif" font-size="13.5" fill="#a0a0a0" textLength="33" lengthAdjust="spacingAndGlyphs">ООО</text>
<text x="771" y="542" font-family="'Liberation Serif',serif" font-weight="bold" font-size="35.5" fill="#a3a3a3" stroke="#fff" stroke-width="1.2" style="paint-order:stroke fill" textLength="180" lengthAdjust="spacingAndGlyphs">АГРОСНАБ</text>
</g>
<!--/WATERMARK-->
</svg>
</body>
</html>
